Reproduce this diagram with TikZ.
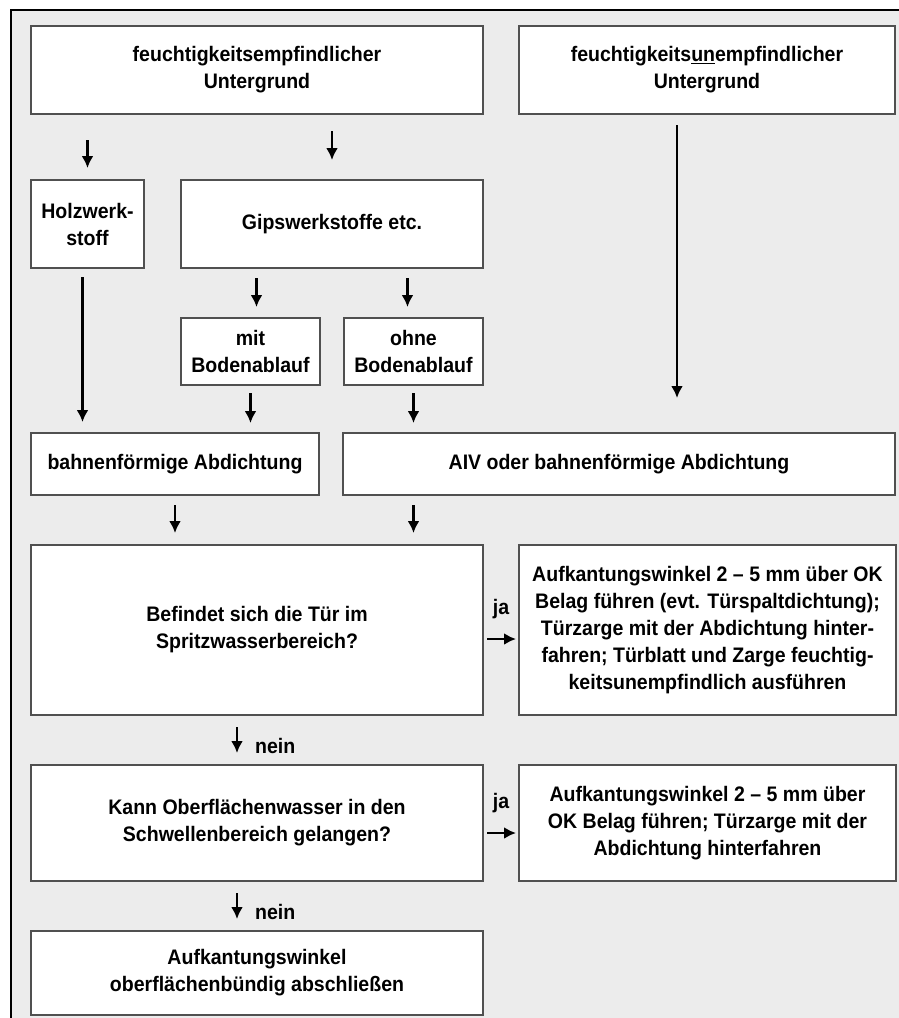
\documentclass[tikz,border=0pt]{standalone}
\usepackage{fontspec}
\setmainfont{Liberation Sans}[FakeStretch=0.93]
\usepackage{tikz}
\usetikzlibrary{arrows.meta, positioning, calc}
\definecolor{rahmengrau}{RGB}{80, 80, 80}
\definecolor{hintergrund}{RGB}{236, 236, 236}

\begin{document}
\begin{tikzpicture}[
  x=1pt, y=1pt,
  every node/.style={font=\fontsize{21pt}{27pt}\selectfont\bfseries},
  box/.style={
    draw=rahmengrau, fill=white, line width=1.6pt,
    align=center, inner sep=0pt, outer sep=0pt
  },
  arrow/.style={-{Latex[length=12pt, width=12pt]}, line width=2.4pt, color=black},
  beschr/.style={inner sep=0pt}
]

  % Hintergrund und Rahmen
  \useasboundingbox (0,0) rectangle (899,-1018);
  \fill[hintergrund] (11,-10) rectangle (899,-1018);
  \draw[line width=2.6pt] (11,-1018) -- (11,-10) -- (899,-10);

  % Untergrund (obere Reihe)
  \node[box, anchor=north west, minimum width=452pt, minimum height=88pt] (empf) at (31,-26) {feuchtigkeitsempfindlicher\\Untergrund};
  \node[box, right=36pt of empf, minimum width=376pt, minimum height=88pt] (unempf) {feuchtigkeits\underline{un}empfindlicher\\Untergrund};

  % Werkstoffe
  \node[box, below=66pt of empf.south west, anchor=north west, minimum width=113pt, minimum height=88pt] (holz) {Holzwerk-\\stoff};
  \node[box, right=37pt of holz, minimum width=302pt, minimum height=88pt] (gips) {Gipswerkstoffe etc.};
  \node[box, below=50pt of gips.south west, anchor=north west, minimum width=139pt, minimum height=67pt] (mit) {mit\\Bodenablauf};
  \node[box, right=24pt of mit, minimum width=139pt, minimum height=67pt] (ohne) {ohne\\Bodenablauf};

  % Abdichtung
  \node[box, below=165pt of holz.south west, anchor=north west, minimum width=288pt, minimum height=62pt] (bahn) {bahnenförmige Abdichtung};
  \node[box, right=24pt of bahn, minimum width=552pt, minimum height=62pt] (aiv) {AIV oder bahnenförmige Abdichtung};

  % Abfragen links, Massnahmen rechts
  \node[box, below=50pt of bahn.south west, anchor=north west, minimum width=452pt, minimum height=170pt] (tuer) {Befindet sich die Tür im\\Spritzwasserbereich?};
  \node[box, right=36pt of tuer, minimum width=377pt, minimum height=170pt] (aufkA) {Aufkantungswinkel 2 – 5 mm über OK\\Belag führen (evt. Türspaltdichtung);\\Türzarge mit der Abdichtung hinter-\\fahren; Türblatt und Zarge feuchtig-\\keitsunempfindlich ausführen};
  \node[box, below=50pt of tuer.south west, anchor=north west, minimum width=452pt, minimum height=116pt] (wasser) {Kann Oberflächenwasser in den\\Schwellenbereich gelangen?};
  \node[box, right=36pt of wasser, minimum width=377pt, minimum height=116pt] (aufkB) {Aufkantungswinkel 2 – 5 mm über\\OK Belag führen; Türzarge mit der\\Abdichtung hinterfahren};
  \node[box, below=50pt of wasser.south west, anchor=north west, minimum width=452pt, minimum height=84pt] (buendig) {Aufkantungswinkel\\oberflächenbündig abschließen};

  % Pfeile oben
  \draw[arrow, shorten <=26pt, shorten >=12pt] (empf.south -| holz) -- (holz);
  \draw[arrow, shorten <=17pt, shorten >=20pt] (empf.south -| gips) -- (gips);
  \draw[arrow, shorten <=11pt, shorten >=35pt] ($(unempf.south)+(-30,0)$) -- ($(unempf.south |- aiv.north)+(-30,0)$);
  \draw[arrow, shorten <=9pt, shorten >=11pt] ($(holz.south)+(-5,0)$) -- ($(holz.south |- bahn.north)+(-5,0)$);
  \draw[arrow, shorten <=10pt, shorten >=11pt] ($(mit.north |- gips.south)+(6,0)$) -- ($(mit.north)+(6,0)$);
  \draw[arrow, shorten <=10pt, shorten >=11pt] ($(ohne.north |- gips.south)+(-6,0)$) -- ($(ohne.north)+(-6,0)$);
  \draw[arrow, shorten <=8pt, shorten >=10pt] (mit) -- (mit.south |- bahn.north);
  \draw[arrow, shorten <=8pt, shorten >=10pt] (ohne) -- (ohne.south |- aiv.north);

  % Pfeile zu den Abfragen
  \draw[arrow, shorten <=10pt, shorten >=12pt] (bahn) -- (bahn.south |- tuer.north);
  \draw[arrow, shorten <=10pt, shorten >=12pt] (ohne.south |- aiv.south) -- (ohne.south |- tuer.north);

  % ja / nein
  \draw[arrow, shorten <=4pt, shorten >=3pt] ($(tuer.east)+(0,-9)$) -- ($(aufkA.west)+(0,-9)$)
    node[beschr, midway, above=19pt] {ja};
  \draw[arrow, shorten <=4pt, shorten >=3pt] ($(wasser.east)+(0,-10)$) -- ($(aufkB.west)+(0,-10)$)
    node[beschr, midway, above=19pt] {ja};
  \draw[arrow, shorten <=12pt, shorten >=12pt] ($(tuer.south)+(-20,0)$) -- ($(wasser.north)+(-20,0)$)
    node[beschr, pos=0.62, right=17pt] {nein};
  \draw[arrow, shorten <=12pt, shorten >=12pt] ($(wasser.south)+(-20,0)$) -- ($(buendig.north)+(-20,0)$)
    node[beschr, pos=0.62, right=17pt] {nein};

\end{tikzpicture}
\end{document}
